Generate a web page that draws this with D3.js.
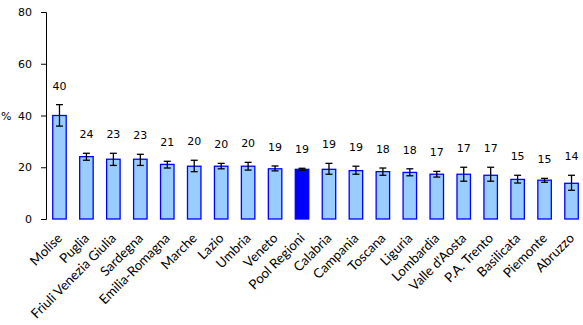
<!DOCTYPE html>
<html><head><meta charset="utf-8">
<script src="https://cdn.jsdelivr.net/npm/d3@7"></script>
<style>
html,body{margin:0;padding:0;background:#fff;}
svg{display:block;}
</style>
</head><body>
<svg id="chart" width="583" height="325"></svg>
<script>
const categories = ["Molise","Puglia","Friuli Venezia Giulia","Sardegna","Emilia-Romagna","Marche","Lazio","Umbria","Veneto","Pool Regioni","Calabria","Campania","Toscana","Liguria","Lombardia","Valle d'Aosta","P.A. Trento","Basilicata","Piemonte","Abruzzo"];
const values   = [40.0,24.1,23.1,23.1,21.1,20.4,20.4,20.4,19.4,19.2,19.2,18.7,18.3,18.0,17.3,17.3,16.9,15.3,15.0,13.8];
const ciLower  = [35.9,22.7,20.7,20.7,19.7,18.3,19.4,18.9,18.6,18.8,17.3,17.3,16.9,16.7,16.2,14.6,14.6,13.9,14.2,11.1];
const ciUpper  = [44.2,25.4,25.4,25.0,22.3,22.7,21.5,21.9,20.5,19.6,21.5,20.4,19.7,19.4,18.4,20.0,20.0,16.9,15.7,16.9];
const yTicks   = [0,20,40,60,80];
const highlight = "Pool Regioni";
const yLabel = "%";

const data = categories.map((c,i)=>({cat:c, v:values[i], lo:ciLower[i], hi:ciUpper[i]}));

const svg = d3.select("#chart");
const x = d3.scaleBand().domain(categories).range([46, 585]).paddingInner(0.5).paddingOuter(0.25);
const y = d3.scaleLinear().domain([0,80]).range([219, 12]);

// y axis
const yAxis = d3.axisLeft(y).tickValues(yTicks).tickSize(5).tickPadding(9).tickFormat(d3.format("d"));
const gy = svg.append("g").attr("transform","translate(46,0)").call(yAxis);
gy.select(".domain").attr("stroke","#000").attr("stroke-width",1);
gy.selectAll(".tick line").attr("stroke","#000");
gy.selectAll(".tick text").attr("fill","#000").style("font-family","DejaVu Sans, Verdana, sans-serif").style("font-size","11px");

svg.append("text").attr("x",1).attr("y",y(40)+4).text(yLabel)
  .style("font-family","DejaVu Sans, Verdana, sans-serif").style("font-size","11px").attr("fill","#000");

// bars
svg.append("g").selectAll("rect").data(data).join("rect")
  .attr("x",d=>x(d.cat)).attr("width",x.bandwidth())
  .attr("y",d=>y(d.v)).attr("height",d=>y(0)-y(d.v))
  .attr("fill",d=>d.cat===highlight?"#0000FF":"#99CCFF")
  .attr("stroke","#0000FF").attr("stroke-width",1.3);

// error bars
const eb = svg.append("g").attr("stroke","#000").attr("stroke-width",1.3).attr("fill","none");
data.forEach(d=>{
  const cx = x(d.cat)+x.bandwidth()/2;
  eb.append("line").attr("x1",cx).attr("x2",cx).attr("y1",y(d.lo)).attr("y2",y(d.hi));
  eb.append("line").attr("x1",cx-3.5).attr("x2",cx+3.5).attr("y1",y(d.lo)).attr("y2",y(d.lo));
  eb.append("line").attr("x1",cx-3.5).attr("x2",cx+3.5).attr("y1",y(d.hi)).attr("y2",y(d.hi));
});

// value labels
svg.append("g").selectAll("text").data(data).join("text")
  .attr("x",d=>x(d.cat)+x.bandwidth()/2).attr("y",d=>y(d.hi)-15)
  .attr("text-anchor","middle").attr("fill","#000")
  .style("font-family","DejaVu Sans, Verdana, sans-serif").style("font-size","11px")
  .text(d=>d3.format(".0f")(d.v));

// category labels
svg.append("g").selectAll("text").data(categories).join("text")
  .attr("transform",d=>`translate(${x(d)+x.bandwidth()/2+3.5},${239}) rotate(-45)`)
  .attr("text-anchor","end").attr("fill","#000")
  .style("font-family","Lato, Carlito, sans-serif").style("font-size","13.3px")
  .text(d=>d);
</script>
</body></html>
